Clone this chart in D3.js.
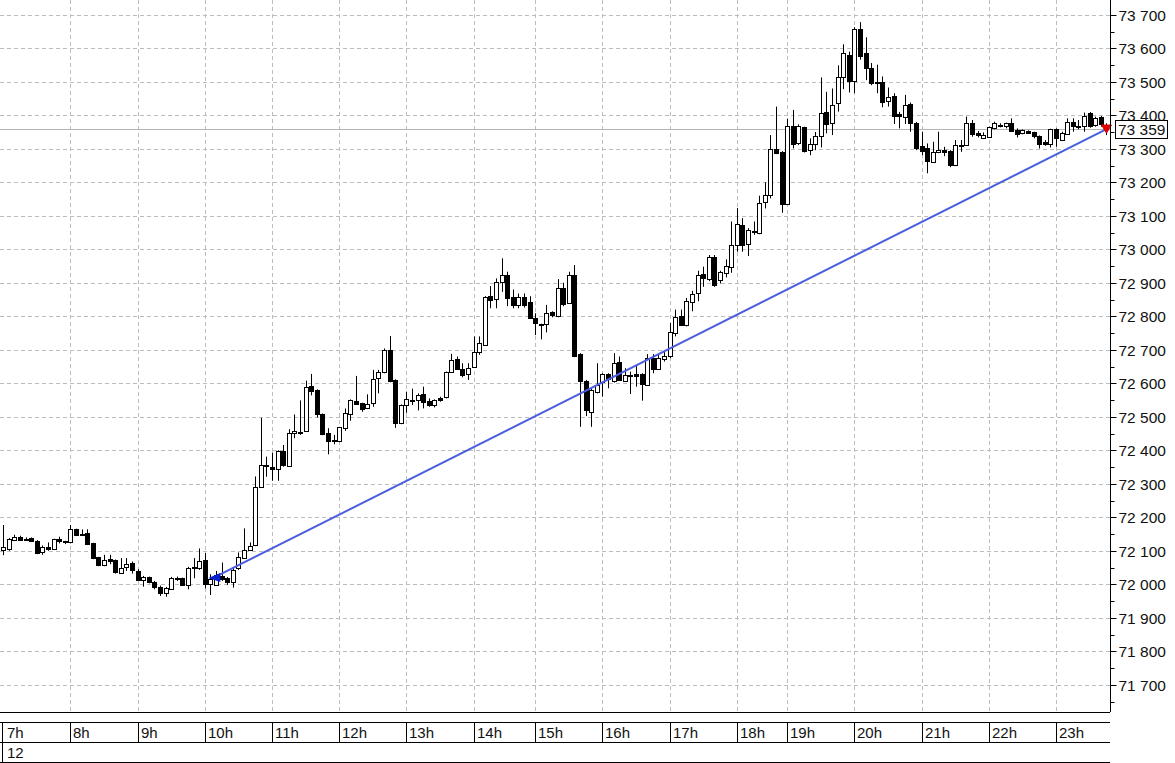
<!DOCTYPE html>
<html>
<head>
<meta charset="utf-8">
<script src="https://cdn.jsdelivr.net/npm/d3@7"></script>
<style>
  body { margin: 0; background: #fff; }
  svg { display: block; font-family: "Liberation Sans", Arial, sans-serif; }
</style>
</head>
<body>
<div id="chart"></div>
<script>
// 5-minute bars, one hour label per group
const hourLabels = ["7h","8h","9h","10h","11h","12h","13h","14h","15h","16h","17h","18h","19h","20h","21h","22h","23h"];
const hourStart = [0,12,24,36,48,60,72,84,95,107,119,131,140,152,164,176,188];
const dayLabel = "12";

const opens = [72100,72104,72134,72142,72136,72138,72130,72094,72110,72104,72136,72128,72124,72164,72150,72152,72122,72081,72057,72075,72072,72033,72051,72063,72041,72013,72021,72007,71993,71973,
71987,72017,72018,71998,72048,72050,72073,72000,71998,72025,72018,72007,72048,72079,72102,72117,72290,72355,72349,72343,72398,72355,72451,72455,72458,72592,72580,72507,72451,72430,
72427,72464,72507,72548,72540,72525,72540,72614,72633,72699,72610,72482,72534,72549,72548,72568,72547,72536,72557,72557,72633,72673,72643,72627,72648,72691,72717,72861,72849,72903,
72923,72859,72836,72859,72842,72794,72777,72777,72813,72799,72884,72839,72923,72687,72607,72515,72575,72605,72628,72607,72663,72608,72624,72628,72628,72597,72675,72645,72673,72681,
72752,72801,72773,72844,72869,72926,72913,72976,72910,72930,72948,73013,73073,73016,73052,73048,73139,73161,73298,73291,73137,73369,73318,73364,73294,73313,73336,73411,73376,73436,
73513,73580,73503,73658,73585,73540,73500,73500,73443,73458,73403,73396,73434,73378,73308,73301,73261,73290,73296,73294,73252,73310,73311,73378,73346,73334,73334,73361,73370,73366,
73378,73356,73346,73353,73351,73338,73321,73314,73358,73328,73346,73381,73369,73368,73408,73371,73394,73370];
const highs = [72177,72138,72148,72145,72140,72140,72132,72116,72125,72136,72142,72130,72177,72166,72164,72164,72124,72082,72088,72088,72074,72078,72078,72068,72045,72025,72023,72010,71996,71992,
72022,72023,72020,72052,72078,72107,72094,72030,72040,72065,72022,72050,72095,72167,72125,72322,72497,72381,72393,72400,72416,72463,72507,72549,72608,72628,72582,72510,72466,72446,
72470,72525,72552,72622,72542,72567,72640,72640,72704,72741,72612,72537,72575,72584,72570,72590,72555,72552,72560,72635,72688,72680,72660,72660,72740,72740,72860,72890,72913,72973,
72933,72880,72868,72868,72860,72809,72778,72834,72815,72911,72900,72933,72953,72690,72610,72585,72660,72630,72630,72690,72680,72645,72635,72655,72630,72687,72687,72687,72693,72780,
72820,72820,72855,72876,72936,72948,72983,72983,72936,72970,73083,73123,73093,73063,73083,73160,73200,73341,73426,73293,73390,73416,73373,73366,73331,73350,73513,73470,73480,73549,
73612,73590,73663,73678,73633,73556,73551,73516,73483,73466,73410,73461,73438,73380,73351,73316,73321,73351,73306,73296,73326,73326,73396,73386,73353,73349,73366,73381,73376,73378,
73391,73361,73358,73355,73351,73340,73326,73360,73361,73351,73391,73391,73386,73408,73410,73396,73398,73376];
const lows = [72087,72100,72130,72132,72132,72126,72090,72088,72100,72102,72122,72120,72122,72144,72144,72117,72075,72054,72054,72060,72032,72032,72040,72032,72012,71993,72003,71985,71965,71963,
71984,72010,71995,71985,72018,72043,71988,71968,71995,72010,71998,71990,72043,72078,72100,72114,72288,72321,72309,72309,72351,72353,72436,72446,72455,72564,72498,72445,72388,72418,
72424,72458,72488,72538,72515,72523,72530,72570,72630,72603,72467,72478,72512,72535,72519,72525,72530,72528,72545,72555,72632,72640,72618,72610,72646,72685,72715,72824,72824,72873,
72830,72824,72824,72826,72792,72744,72731,72752,72797,72797,72830,72837,72678,72470,72502,72470,72570,72560,72585,72602,72608,72605,72568,72590,72548,72595,72630,72640,72665,72675,
72740,72772,72770,72815,72845,72888,72905,72888,72898,72916,72930,72993,72993,72980,73043,73045,73122,73152,73284,73109,73135,73301,73311,73289,73281,73296,73304,73346,73341,73411,
73478,73468,73466,73566,73505,73490,73466,73424,73426,73374,73361,73374,73351,73296,73281,73227,73258,73287,73278,73245,73248,73291,73310,73336,73334,73329,73333,73358,73364,73361,
73351,73334,73343,73346,73331,73301,73309,73304,73306,73325,73343,73351,73358,73351,73363,73366,73366,73341];
const closes = [72110,72134,72142,72134,72136,72128,72094,72110,72105,72134,72130,72128,72164,72146,72146,72120,72078,72058,72072,72070,72035,72048,72061,72041,72015,72023,72005,71991,71975,71988,
72019,72018,71998,72048,72052,72070,72000,72015,72028,72015,72005,72043,72081,72102,72114,72291,72356,72352,72343,72398,72355,72453,72458,72456,72588,72578,72507,72448,72426,72432,
72469,72510,72550,72540,72522,72537,72612,72633,72699,72605,72482,72535,72553,72550,72564,72545,72535,72550,72552,72633,72670,72642,72625,72645,72693,72719,72859,72849,72901,72923,
72854,72836,72859,72836,72793,72779,72776,72809,72803,72884,72837,72923,72681,72607,72520,72580,72595,72628,72612,72660,72610,72625,72626,72622,72598,72677,72643,72677,72681,72753,
72799,72774,72846,72867,72923,72913,72978,72893,72933,72950,73013,73075,73013,73058,73054,73139,73161,73298,73286,73137,73369,73316,73368,73291,73313,73338,73406,73376,73431,73513,
73585,73503,73658,73578,73540,73496,73496,73441,73456,73398,73398,73431,73378,73304,73294,73261,73291,73296,73290,73252,73311,73312,73377,73344,73340,73342,73364,73376,73372,73376,
73354,73344,73356,73348,73338,73314,73314,73358,73331,73348,73381,73369,73369,73398,73368,73391,73374,73359];

// trend line drawn on the chart (bar index, price)
const trendStart = [37.5, 72019];
const trendEnd = [197, 73359];
const lastPrice = 73359;

const W = 1175, H = 763;
const plotRight = 1110, plotBottom = 712;

const bars = opens.map((o, i) => ({ i, o, h: highs[i], l: lows[i], c: closes[i] }));

const x = d3.scaleLinear().domain([0, 197]).range([3.3, 3.3 + 197 * 5.6]);
const y = d3.scaleLinear().domain([72000, 73700]).range([584.3, 584.3 - 1700 * 0.335]);

const svg = d3.select("#chart").append("svg")
    .attr("width", W)
    .attr("height", H);

// dashed grid
const yTicks = d3.range(71700, 73701, 100);
svg.append("g").selectAll("line")
    .data(yTicks)
    .join("line")
    .attr("x1", 0).attr("x2", plotRight)
    .attr("y1", d => Math.round(y(d)) + 0.5)
    .attr("y2", d => Math.round(y(d)) + 0.5)
    .attr("stroke", "#bdbdbd")
    .attr("stroke-dasharray", "4,3");

svg.append("g").selectAll("line")
    .data(hourStart.slice(1))
    .join("line")
    .attr("x1", d => Math.round(x(d)) + 0.5)
    .attr("x2", d => Math.round(x(d)) + 0.5)
    .attr("y1", 0).attr("y2", plotBottom)
    .attr("stroke", "#bdbdbd")
    .attr("stroke-dasharray", "4,3");

// last price line
svg.append("line")
    .attr("x1", 0).attr("x2", plotRight)
    .attr("y1", Math.round(y(lastPrice)) + 0.5)
    .attr("y2", Math.round(y(lastPrice)) + 0.5)
    .attr("stroke", "#b4b4b4");

// candles
const candle = svg.append("g").selectAll("g")
    .data(bars)
    .join("g")
    .attr("transform", d => `translate(${Math.round(x(d.i)) + 0.5},0)`);

candle.append("line")
    .attr("y1", d => y(d.h))
    .attr("y2", d => y(d.l))
    .attr("stroke", "#000");

candle.append("rect")
    .attr("x", -2)
    .attr("width", 4)
    .attr("y", d => Math.round(y(Math.max(d.o, d.c))) + 0.5)
    .attr("height", d => Math.max(1, Math.round(Math.abs(y(d.o) - y(d.c)))))
    .attr("fill", d => d.c >= d.o ? "#fff" : "#000")
    .attr("stroke", "#000");

// trend line with start arrow and end marker
svg.append("line")
    .attr("x1", x(trendStart[0])).attr("y1", y(trendStart[1]))
    .attr("x2", x(trendEnd[0])).attr("y2", y(trendEnd[1]))
    .attr("stroke", "#4a5ee0")
    .attr("stroke-width", 2);

const sx = x(trendStart[0]), sy = y(trendStart[1]);
svg.append("path")
    .attr("d", `M${sx - 5},${sy} L${sx + 7},${sy - 5} L${sx + 7},${sy + 4} Z`)
    .attr("fill", "#0a1fd0");

const ex = x(trendEnd[0]), ey = y(trendEnd[1]);
svg.append("path")
    .attr("d", `M${ex - 5},${ey - 4} L${ex + 5},${ey - 4} L${ex},${ey + 4} Z`)
    .attr("fill", "#e00000")
    .attr("stroke", "#e00000");

// right price axis
const axis = svg.append("g").attr("transform", `translate(${plotRight + 0.5},0)`);
axis.append("line").attr("y1", 0).attr("y2", plotBottom).attr("stroke", "#000");
axis.selectAll(".minor")
    .data(d3.range(71650, 73751, 50))
    .join("line")
    .attr("y1", d => Math.round(y(d)) + 0.5)
    .attr("y2", d => Math.round(y(d)) + 0.5)
    .attr("x1", 0)
    .attr("x2", d => d % 100 === 0 ? 6 : 4)
    .attr("stroke", "#000");

const fmt = v => d3.format(",")(v).replace(/,/g, " ");
// tick labels, skipping the one hidden by the current value box
axis.selectAll("text")
    .data(yTicks.filter(d => Math.abs(y(d) - y(lastPrice)) > 12))
    .join("text")
    .attr("x", 8)
    .attr("y", d => y(d) + 6)
    .attr("font-size", 15.5)
    .attr("fill", "#111")
    .text(fmt);

// 73 400 sits partly behind the box, as in the source chart
const hidden = yTicks.filter(d => Math.abs(y(d) - y(lastPrice)) <= 12);
axis.selectAll(".hid")
    .data(hidden)
    .join("text")
    .attr("class", "hid")
    .attr("x", 8)
    .attr("y", d => y(d) + 2)
    .attr("font-size", 15.5)
    .attr("fill", "#111")
    .text(fmt);

// current value box
axis.append("rect")
    .attr("x", 5).attr("y", Math.round(y(lastPrice)) - 8.5)
    .attr("width", 52).attr("height", 18)
    .attr("fill", "#fff").attr("stroke", "#000");
axis.append("text")
    .attr("x", 7.5)
    .attr("y", y(lastPrice) + 6)
    .attr("font-size", 15.5)
    .attr("fill", "#111")
    .text(fmt(lastPrice));

// bottom time axis
const bottom = svg.append("g");
[plotBottom + 0.5, 722.5, 742.5, 762.5].forEach(yy => {
    bottom.append("line").attr("x1", 0).attr("x2", plotRight).attr("y1", yy).attr("y2", yy).attr("stroke", "#000");
});
bottom.append("line").attr("x1", 2.5).attr("x2", 2.5).attr("y1", 722).attr("y2", 763).attr("stroke", "#000");
bottom.selectAll(".sep")
    .data(hourStart.slice(1))
    .join("line")
    .attr("x1", d => Math.round(x(d)) + 0.5)
    .attr("x2", d => Math.round(x(d)) + 0.5)
    .attr("y1", 722).attr("y2", 742)
    .attr("stroke", "#000");
bottom.selectAll(".hr")
    .data(hourLabels)
    .join("text")
    .attr("x", (d, k) => (k === 0 ? 4 : Math.round(x(hourStart[k]))) + 3)
    .attr("y", 738)
    .attr("font-size", 15)
    .attr("fill", "#111")
    .text(d => d);
bottom.append("text")
    .attr("x", 7).attr("y", 758)
    .attr("font-size", 15)
    .attr("fill", "#111")
    .text(dayLabel);
</script>
</body>
</html>
